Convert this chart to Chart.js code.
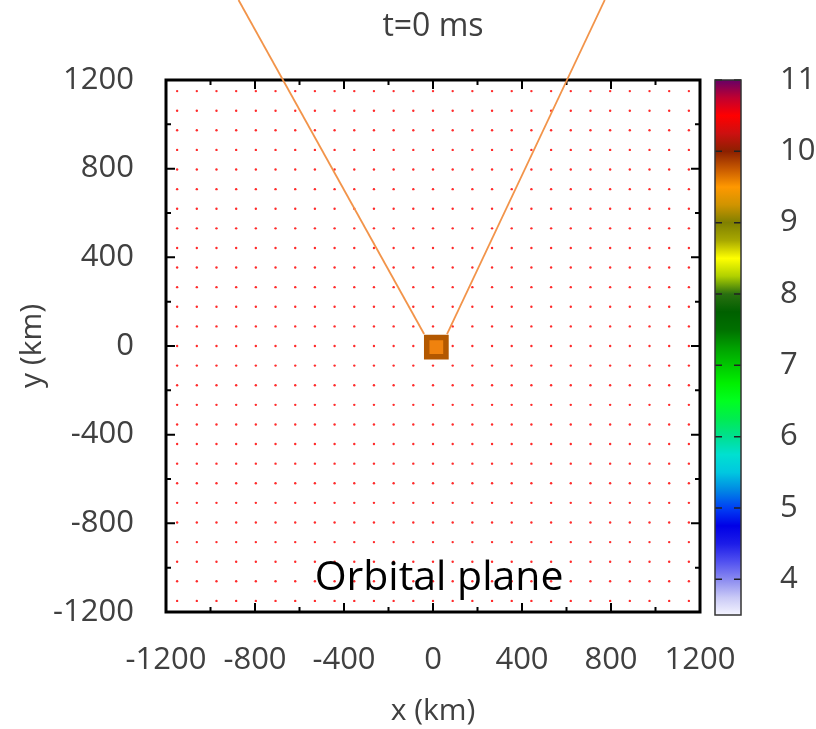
<!DOCTYPE html>
<html>
<head>
<meta charset="utf-8">
<script src="https://cdn.jsdelivr.net/npm/chart.js@4.4.1/dist/chart.umd.min.js"></script>
<style>
  html, body { margin: 0; padding: 0; background: #fff; }
  #wrap { position: relative; width: 816px; height: 729px; }
  #main { position: absolute; left: 0; top: 0; }
  #cbar { position: absolute; left: 700px; top: 0; }
</style>
</head>
<body>
<div id="wrap">
  <canvas id="main" width="816" height="729"></canvas>
  <canvas id="cbar" width="116" height="729"></canvas>
</div>
<script>
// ---------------- data ----------------
const titleText = 't=0 ms';
const xTitle = 'x (km)';
const yTitle = 'y (km)';
const annotationText = 'Orbital plane';

const axisTicks = [-1200, -800, -400, 0, 400, 800, 1200];
const minorTicks = [-1000, -600, -200, 200, 600, 1000];

// regular lattice of sample points (km)
const gridX = [-1150, -1061.5, -973.1, -884.6, -796.2, -707.7, -619.2, -530.8, -442.3, -353.8, -265.4, -176.9, -88.5, 0,
               88.5, 176.9, 265.4, 353.8, 442.3, 530.8, 619.2, 707.7, 796.2, 884.6, 973.1, 1061.5, 1150];
const gridY = [-1150, -1061.5, -973.1, -884.6, -796.2, -707.7, -619.2, -530.8, -442.3, -353.8, -265.4, -176.9, -88.5, 0,
               88.5, 176.9, 265.4, 353.8, 442.3, 530.8, 619.2, 707.7, 796.2, 884.6, 973.1, 1061.5, 1150];

// two rays leaving the source
const rayLeftX = [-40, -874];
const rayLeftY = [54, 1561];
const rayRightX = [63, 772];
const rayRightY = [54, 1561];

// the source
const sourceX = [15];
const sourceY = [-5];

// colour bar
const cbTicks = [4, 5, 6, 7, 8, 9, 10, 11];
const cbRange = [3.5, 11];
const cbStopValue = [3.5, 3.75, 4.0, 4.25, 4.5, 4.75, 5.0, 5.25, 5.5, 5.75, 6.0, 6.25, 6.5, 6.75, 7.0,
                     7.25, 7.5, 7.75, 8.0, 8.25, 8.5, 8.75, 9.0, 9.25, 9.5, 9.75, 10.0, 10.25, 10.5, 10.75, 11.0];
const cbStopColor = ['#f4f4ff', '#c8c8f6', '#8a8af0', '#5050f0', '#1c1ce8', '#0000e6', '#0040f4', '#0088e4',
                     '#00c8e0', '#00e0d0', '#00e090', '#00ec50', '#00ff20', '#00f000', '#00c800', '#00a000',
                     '#007000', '#006000', '#2a7010', '#b0d000', '#ffff00', '#a8a800', '#808000', '#d09400',
                     '#ff9800', '#c85a00', '#8c2000', '#cc1010', '#ff0000', '#c00030', '#660066'];

// ---------------- build ----------------
const FONT = "'Open Sans', 'Liberation Sans', sans-serif";
const TXT = '#404040';

const latticePoints = [];
gridY.forEach(yv => gridX.forEach(xv => latticePoints.push({x: xv, y: yv})));
const toPts = (xs, ys) => xs.map((v, i) => ({x: v, y: ys[i]}));

const framePlugin = {
  id: 'frame',
  beforeDatasetsDraw(chart) {
    const {ctx, chartArea: a, scales: {x, y}} = chart;
    ctx.save();
    ctx.strokeStyle = '#000';
    ctx.lineWidth = 2;
    ctx.beginPath();
    const tick = (vals, len) => vals.forEach(v => {
      const px = x.getPixelForValue(v), py = y.getPixelForValue(v);
      ctx.moveTo(px, a.bottom); ctx.lineTo(px, a.bottom - len);
      ctx.moveTo(px, a.top); ctx.lineTo(px, a.top + len);
      ctx.moveTo(a.left, py); ctx.lineTo(a.left + len, py);
      ctx.moveTo(a.right, py); ctx.lineTo(a.right - len, py);
    });
    tick(axisTicks, 9);
    tick(minorTicks, 5);
    ctx.stroke();
    ctx.lineWidth = 3;
    ctx.strokeRect(a.left, a.top, a.width, a.height);
    ctx.restore();
  },
  afterDatasetsDraw(chart) {
    const {ctx, scales: {x, y}} = chart;
    ctx.save();
    ctx.fillStyle = '#000';
    ctx.font = "41px " + FONT;
    ctx.textAlign = 'left';
    ctx.textBaseline = 'alphabetic';
    ctx.fillText(annotationText, x.getPixelForValue(-532), y.getPixelForValue(-1103));
    ctx.restore();
  }
};

new Chart(document.getElementById('main'), {
  type: 'scatter',
  data: {
    datasets: [
      {
        label: 'source',
        data: toPts(sourceX, sourceY),
        pointStyle: 'rect',
        pointRadius: 13.6,
        backgroundColor: '#f0820e',
        borderColor: '#b35800',
        borderWidth: 5.5,
        order: 0
      },
      {
        label: 'ray left',
        data: toPts(rayLeftX, rayLeftY),
        showLine: true,
        borderColor: '#f2944a',
        borderWidth: 1.8,
        pointRadius: 0,
        clip: false,
        order: 1
      },
      {
        label: 'ray right',
        data: toPts(rayRightX, rayRightY),
        showLine: true,
        borderColor: '#f2944a',
        borderWidth: 1.8,
        pointRadius: 0,
        clip: false,
        order: 1
      },
      {
        label: 'lattice',
        data: latticePoints,
        pointRadius: 1.2,
        pointBorderWidth: 0,
        backgroundColor: '#ff2a2a',
        order: 2
      }
    ]
  },
  options: {
    responsive: false,
    animation: false,
    layout: { padding: { left: 0, right: 116, top: 0, bottom: 0 } },
    plugins: {
      legend: { display: false },
      tooltip: { enabled: false },
      title: {
        display: true,
        fullSize: false,
        text: titleText,
        color: TXT,
        font: { family: FONT, size: 32, weight: 'normal', lineHeight: 1.2 },
        padding: { top: 8, bottom: 33.6 }
      }
    },
    scales: {
      x: {
        type: 'linear',
        min: -1200, max: 1200,
        afterBuildTicks: s => { s.ticks = axisTicks.map(v => ({value: v})); },
        afterFit: s => { s.height = 117; },
        grid: { display: false },
        border: { display: false },
        ticks: { color: TXT, font: { family: FONT, size: 31 }, padding: 22, maxRotation: 0, autoSkip: false,
                 callback: v => String(v) },
        title: { display: true, text: xTitle, color: TXT, font: { family: FONT, size: 30, lineHeight: 1.2 }, padding: { top: 0, bottom: 0 } }
      },
      y: {
        type: 'linear',
        min: -1200, max: 1200,
        afterBuildTicks: s => { s.ticks = axisTicks.map(v => ({value: v})); },
        afterFit: s => { s.width = 166; },
        grid: { display: false },
        border: { display: false },
        ticks: { color: TXT, font: { family: FONT, size: 31 }, padding: 24, autoSkip: false,
                 callback: v => String(v) },
        title: { display: true, text: yTitle, color: TXT, font: { family: FONT, size: 30, lineHeight: 1.2 }, padding: { top: 14, bottom: 0 } }
      }
    }
  },
  plugins: [framePlugin]
});

// ---------------- colour bar ----------------
const cbFrame = {
  id: 'cbFrame',
  afterDatasetsDraw(chart) {
    const {ctx, chartArea: a, scales: {y}} = chart;
    ctx.save();
    ctx.strokeStyle = '#222';
    ctx.lineWidth = 1.5;
    ctx.beginPath();
    cbTicks.forEach(v => {
      const py = y.getPixelForValue(v);
      ctx.moveTo(a.left, py); ctx.lineTo(a.left + 7, py);
      ctx.moveTo(a.right, py); ctx.lineTo(a.right - 7, py);
    });
    ctx.stroke();
    ctx.strokeStyle = '#333';
    ctx.strokeRect(a.left, a.top, a.width, a.height);
    ctx.restore();
  }
};

new Chart(document.getElementById('cbar'), {
  type: 'bar',
  data: {
    labels: [''],
    datasets: [{
      data: [cbRange],
      barPercentage: 1,
      categoryPercentage: 1,
      borderWidth: 0,
      backgroundColor: (c) => {
        const ch = c.chart;
        const a = ch.chartArea;
        if (!a) return '#fff';
        const ys = ch.scales.y;
        const g = ch.ctx.createLinearGradient(0, a.bottom, 0, a.top);
        const span = a.bottom - a.top;
        const pos = v => Math.min(1, Math.max(0, (a.bottom - ys.getPixelForValue(v)) / span));
        cbStopColor.forEach((col, i) => g.addColorStop(pos(cbStopValue[i]), col));
        return g;
      }
    }]
  },
  options: {
    responsive: false,
    animation: false,
    layout: { padding: { left: 15, right: 0, top: 80, bottom: 114 } },
    plugins: { legend: { display: false }, tooltip: { enabled: false } },
    scales: {
      x: { display: false },
      y: {
        position: 'right',
        min: cbRange[0], max: cbRange[1],
        afterBuildTicks: s => { s.ticks = cbTicks.map(v => ({value: v})); },
        afterFit: s => { s.width = 75; },
        grid: { display: false },
        border: { display: false },
        ticks: { color: TXT, font: { family: FONT, size: 31 }, padding: 31 }
      }
    }
  },
  plugins: [cbFrame]
});
</script>
</body>
</html>
